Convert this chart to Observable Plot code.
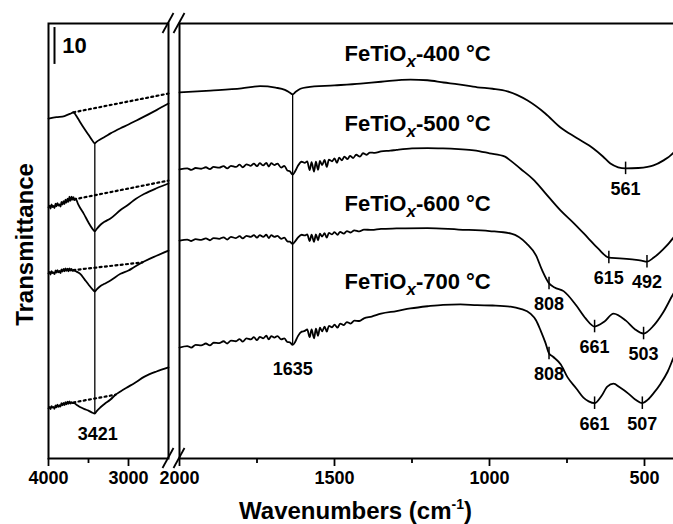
<!DOCTYPE html>
<html><head><meta charset="utf-8">
<script src="https://cdn.jsdelivr.net/npm/d3@7"></script>
<script src="https://cdn.jsdelivr.net/npm/@observablehq/plot@0.6"></script>
<style>
body{margin:0;background:#fff}
#chart{position:relative;width:673px;height:524px;overflow:hidden;background:#fff}
#chart svg{position:absolute;left:0;top:0}
</style></head><body><div id="chart"></div>
<script>
// ---- data: [wavenumber (cm-1), transmittance (offset, a.u.)] ----
const temps = ["400", "500", "600", "700"];

const s400L = [[4000,92.2],[3900,92.6],[3800,92.9],[3720,93.6],[3690,93.9],[3660,93.2],[3620,91.8],[3562,89.8],[3500,87.8],[3450,86.2],[3421,85.5],[3400,85.9],[3350,86.6],[3300,87.2],[3225,88.2],[3100,89.6],[3000,90.6],[2900,91.7],[2800,92.8],[2650,94.5],[2500,96.3]];
const s500L = [[4000,68.1],[3985,68.6],[3975,67.8],[3962,68.9],[3950,68.2],[3938,68.5],[3925,67.9],[3912,69.1],[3900,68.4],[3888,69.3],[3875,68.6],[3862,68.9],[3850,68.3],[3838,69.6],[3825,68.9],[3812,69.8],[3800,69.0],[3788,70.2],[3775,69.4],[3762,70.5],[3750,69.6],[3738,71.0],[3725,69.9],[3712,71.0],[3700,70.2],[3688,70.9],[3675,70.1],[3662,70.5],[3630,69.0],[3600,67.8],[3562,66.5],[3500,64.0],[3450,62.3],[3421,61.6],[3400,62.2],[3350,63.4],[3300,64.2],[3225,65.1],[3100,67.4],[3000,68.9],[2937,70.0],[2800,71.8],[2650,73.3],[2500,74.6]];
const s600L = [[4000,50.2],[3985,50.6],[3975,49.9],[3962,50.8],[3950,50.3],[3938,50.5],[3925,50.0],[3912,51.0],[3900,50.4],[3888,51.1],[3875,50.5],[3862,50.9],[3850,50.3],[3838,51.3],[3825,50.7],[3812,51.4],[3800,50.8],[3788,51.6],[3775,50.9],[3762,51.5],[3750,50.8],[3738,51.6],[3725,51.0],[3712,51.4],[3700,50.9],[3680,51.0],[3650,50.7],[3600,50.0],[3550,48.6],[3500,47.2],[3450,45.9],[3421,45.3],[3400,45.8],[3350,46.8],[3300,47.4],[3225,48.3],[3100,50.1],[3000,51.0],[2937,51.8],[2800,53.5],[2650,55.0],[2500,56.4]];
const s700L = [[4000,13.6],[3985,14.0],[3975,13.4],[3962,14.2],[3950,13.8],[3938,14.0],[3925,13.5],[3912,14.4],[3900,13.9],[3888,14.6],[3875,14.0],[3862,14.5],[3850,14.1],[3838,15.0],[3825,14.4],[3812,15.1],[3800,14.5],[3788,15.3],[3775,14.7],[3762,15.4],[3750,14.8],[3738,15.5],[3725,14.9],[3712,15.3],[3700,15.0],[3680,15.0],[3650,14.6],[3600,13.9],[3550,13.4],[3500,13.0],[3450,12.4],[3421,12.2],[3400,12.8],[3350,13.9],[3300,14.8],[3225,16.0],[3162,17.3],[3100,18.2],[3000,19.5],[2937,20.3],[2800,22.2],[2650,23.6],[2500,24.7]];

// dotted baselines under the O-H band
const b400 = [[3690,93.9],[2500,99.0]];
const b500 = [[3680,70.3],[2500,75.4]];
const b600 = [[3690,51.1],[2825,53.2]];
const b700 = [[3690,15.2],[3162,17.3]];

const s400R = [[2000,99.3],[1900,99.8],[1800,100.4],[1740,101.0],[1690,100.6],[1660,100.0],[1645,99.3],[1635,98.8],[1625,99.5],[1610,100.3],[1590,100.7],[1500,101.2],[1416,101.7],[1350,102.2],[1255,102.8],[1200,102.6],[1148,102.0],[1100,101.5],[1039,100.7],[990,100.3],[942,99.6],[877,97.1],[820,93.6],[771,89.8],[720,87.0],[665,84.1],[635,82.0],[610,80.0],[585,79.0],[561,78.7],[520,78.8],[490,79.1],[471,79.5],[440,80.8],[406,83.0],[400,83.6]];
const s500R = [[2000,78.4],[1975,78.7],[1962,78.3],[1948,78.8],[1930,78.6],[1915,79.0],[1902,78.5],[1890,79.1],[1872,78.9],[1858,79.3],[1846,78.7],[1834,79.4],[1818,79.1],[1806,79.7],[1796,79.0],[1784,79.8],[1770,79.4],[1760,80.0],[1750,79.3],[1741,80.1],[1730,79.5],[1720,80.2],[1712,79.2],[1704,80.1],[1694,79.6],[1684,80.0],[1672,78.9],[1662,79.4],[1652,78.1],[1644,77.9],[1635,77.0],[1627,77.9],[1618,79.4],[1606,80.5],[1596,80.2],[1588,80.6],[1580,78.2],[1574,80.4],[1566,77.8],[1560,80.5],[1553,78.3],[1547,80.7],[1540,79.6],[1532,81.0],[1525,79.1],[1518,81.1],[1508,80.6],[1500,81.4],[1492,80.2],[1485,81.6],[1476,80.9],[1468,81.9],[1458,81.2],[1450,82.1],[1440,81.5],[1430,82.4],[1418,81.9],[1408,82.8],[1396,82.4],[1386,83.0],[1370,82.9],[1350,83.3],[1320,83.5],[1300,83.7],[1250,84.1],[1200,84.2],[1150,84.1],[1100,83.9],[1050,83.6],[1000,82.8],[950,81.9],[932,80.8],[900,78.6],[855,75.4],[820,72.0],[771,67.3],[730,64.0],[684,60.0],[650,57.0],[615,54.5],[580,54.3],[540,54.0],[510,53.7],[492,53.4],[470,54.5],[440,56.7],[406,60.0],[400,60.7]];
const s600R = [[2000,59.1],[1975,59.4],[1962,59.0],[1948,59.5],[1930,59.3],[1915,59.7],[1902,59.2],[1890,59.8],[1872,59.6],[1858,60.0],[1846,59.4],[1834,60.1],[1818,59.8],[1806,60.3],[1796,59.7],[1784,60.4],[1770,60.1],[1760,60.6],[1750,59.9],[1741,60.6],[1730,60.1],[1720,60.7],[1712,59.8],[1704,60.6],[1694,60.1],[1684,60.4],[1672,59.6],[1662,59.9],[1652,58.9],[1644,58.8],[1635,58.2],[1627,58.9],[1618,59.9],[1606,60.7],[1596,60.5],[1588,60.8],[1580,59.0],[1574,60.7],[1566,58.8],[1560,60.8],[1553,59.2],[1547,61.0],[1540,60.2],[1532,61.1],[1525,59.9],[1518,61.2],[1508,60.8],[1500,61.4],[1490,60.7],[1482,61.5],[1470,61.0],[1460,61.7],[1448,61.3],[1436,61.9],[1420,61.6],[1405,62.1],[1380,62.0],[1350,62.3],[1300,62.4],[1200,62.5],[1100,62.1],[1000,61.7],[930,61.0],[880,58.3],[850,55.1],[830,51.0],[808,47.5],[790,46.4],[761,45.4],[720,41.5],[690,38.0],[661,35.8],[630,37.1],[600,39.3],[560,37.4],[530,35.0],[503,33.9],[470,36.1],[440,39.6],[406,44.8],[400,45.6]];
const s700R = [[2000,30.1],[1975,30.5],[1962,30.1],[1948,30.8],[1930,30.7],[1915,31.2],[1902,30.7],[1890,31.4],[1872,31.3],[1858,31.8],[1846,31.2],[1834,32.0],[1818,31.8],[1806,32.4],[1796,31.7],[1784,32.6],[1770,32.3],[1760,32.9],[1750,32.1],[1741,33.0],[1730,32.6],[1720,33.3],[1712,32.3],[1704,33.2],[1694,32.8],[1684,33.2],[1672,32.3],[1662,32.6],[1652,31.6],[1644,31.5],[1635,30.8],[1627,31.6],[1618,33.2],[1606,34.4],[1596,34.6],[1588,35.0],[1580,32.9],[1574,35.0],[1566,32.6],[1560,35.2],[1553,33.3],[1547,35.5],[1540,34.5],[1532,35.8],[1525,34.4],[1518,36.0],[1508,35.6],[1500,36.3],[1490,35.5],[1482,36.6],[1470,36.2],[1460,37.0],[1448,36.6],[1436,37.4],[1420,37.3],[1405,38.0],[1380,38.5],[1350,39.3],[1300,40.0],[1255,40.7],[1200,41.3],[1150,41.7],[1094,41.8],[1040,41.6],[990,41.5],[932,41.2],[900,40.6],[868,39.3],[850,37.5],[835,34.7],[820,31.5],[808,28.5],[795,27.6],[770,25.5],[748,22.0],[720,19.0],[697,16.5],[680,15.5],[661,15.0],[640,16.8],[620,19.5],[600,20.3],[580,19.3],[552,17.6],[530,16.0],[507,15.0],[490,15.9],[470,17.8],[448,20.3],[425,23.6],[406,27.4],[400,28.5]];

// labelled peaks [wavenumber, transmittance at peak]
const p400 = [[561,78.7]];
const p500 = [[615,54.5],[492,53.4]];
const p600 = [[808,47.5],[661,35.8],[503,33.9]];
const p700 = [[808,28.5],[661,15.0],[507,15.0]];

// bands marked across all spectra
const bandLeft = [3421];
const bandRight = [1635];

// sample labels
const labelWn = [1232, 1232, 1232, 1232];
const labelT = [109.7, 90.7, 69.0, 47.9];

// scale bar
const scaleBarLabel = "10";
const scaleBarTop = 116.9;
const scaleBarValue = 10;

// axis ticks
const leftTicks = [4000, 3000];
const leftMinor = [3500];
const rightTicks = [2000, 1500, 1000, 500];
const rightMinor = [1750, 1250, 750];
const leftDomain = [4000, 2500];
const rightDomain = [2000, 400];
const yDomain = [0, 118];

// ---- build tables ----
const rows = (arrs) => arrs.flatMap((pts, i) => pts.map(([wn, t]) => ({wn, t, id: temps[i]})));
const leftS = [s400L, s500L, s600L, s700L];
const rightS = [s400R, s500R, s600R, s700R];
const leftRows = rows(leftS);
const rightRows = rows(rightS);
const baseRows = rows([b400, b500, b600, b700]);
const peakRows = rows([p400, p500, p600, p700]);
const valAt = (pts, wn) => pts.find(p => p[0] === wn)[1];
const bandRows = (bands, spectra) => bands.map(wn => ({wn, top: valAt(spectra[0], wn), bottom: valAt(spectra[spectra.length - 1], wn)}));
const bandL = bandRows(bandLeft, leftS);
const bandR = bandRows(bandRight, rightS);
const labelRows = temps.map((tp, i) => ({wn: labelWn[i], t: labelT[i], text: `FeTiOx-${tp} \u00b0C`}));

const FONT = "'Liberation Sans', Arial, Helvetica, sans-serif";
const B = "bold";
const common = {
  height: 524, marginTop: 23, marginBottom: 66,
  y: {domain: yDomain, axis: null},
  style: {fontFamily: FONT, fontWeight: "bold", fontSize: "18px", color: "black", background: "transparent", maxWidth: "none", overflow: "visible"}
};

function breakMarks(wn) {
  return (index, scales, values, dims) => {
    const g = d3.create("svg:g").attr("stroke", "black").attr("stroke-width", 1.8);
    const cx = scales.x(wn);
    for (const cy of [dims.marginTop, dims.height - dims.marginBottom]) {
      g.append("line").attr("x1", cx - 5.5).attr("y1", cy + 10).attr("x2", cx + 5.5).attr("y2", cy - 10);
    }
    return g.node();
  };
}

const lineOpts = {x: "wn", y: "t", z: "id", curve: "monotone-x", stroke: "black", strokeWidth: 1.8};

const left = Plot.plot({
  ...common, width: 673, marginLeft: 48, marginRight: 505,
  x: {domain: leftDomain, label: null},
  marks: [
    Plot.frame({strokeWidth: 2}),
    Plot.axisX({ticks: leftTicks, tickSize: 8, tickPadding: 5, tickFormat: d => String(d), fontSize: 18, fontWeight: B, strokeWidth: 1.8, label: null}),
    Plot.axisX({ticks: leftMinor, tickSize: 5, tickFormat: () => "", strokeWidth: 1.8, label: null}),
    Plot.line(baseRows, {x: "wn", y: "t", z: "id", stroke: "black", strokeDasharray: "2,3.3", strokeWidth: 2.2}),
    Plot.ruleX(bandL, {x: "wn", y1: "bottom", y2: "top", strokeWidth: 1.3}),
    Plot.line(leftRows, lineOpts),
    Plot.text(bandL, {x: "wn", y: "bottom", text: d => String(d.wn), dy: 21, dx: 3, fontSize: 18, fontWeight: B}),
    Plot.ruleX([{wn: leftDomain[0]}], {x: "wn", y1: scaleBarTop - scaleBarValue, y2: scaleBarTop, dx: 6, strokeWidth: 2}),
    Plot.text([{wn: leftDomain[0], t: scaleBarTop - scaleBarValue / 2, s: scaleBarLabel}], {x: "wn", y: "t", text: "s", dx: 26, fontSize: 22, fontWeight: B}),
    Plot.text(["Transmittance"], {text: d => d, frameAnchor: "left", textAnchor: "middle", lineAnchor: "middle", rotate: -90, dx: -23, dy: 3.5, fontSize: 24, fontWeight: B}),
    breakMarks(leftDomain[1])
  ]
});

const right = Plot.plot({
  ...common, width: 677, marginLeft: 179, marginRight: 2,
  x: {domain: rightDomain, label: null},
  marks: [
    Plot.frame({strokeWidth: 2}),
    Plot.axisX({ticks: rightTicks, tickSize: 8, tickPadding: 5, tickFormat: d => String(d), fontSize: 18, fontWeight: B, strokeWidth: 1.8, label: null}),
    Plot.axisX({ticks: rightMinor, tickSize: 5, tickFormat: () => "", strokeWidth: 1.8, label: null}),
    Plot.ruleX(bandR, {x: "wn", y1: "bottom", y2: "top", strokeWidth: 1.3}),
    Plot.line(rightRows, lineOpts),
    Plot.ruleX(peakRows, {x: "wn", y1: d => d.t - 1.7, y2: d => d.t + 1.7, strokeWidth: 1.5}),
    Plot.text(peakRows, {x: "wn", y: "t", text: d => String(d.wn), dy: 21, fontSize: 18, fontWeight: B}),
    Plot.text(bandR, {x: "wn", y: "bottom", text: d => String(d.wn), dy: 24, fontSize: 18, fontWeight: B}),
    Plot.text(labelRows, {x: "wn", y: "t", text: "text", fontSize: 22, fontWeight: B}),
    Plot.text(["Wavenumbers (cm-1)"], {text: d => d, frameAnchor: "bottom", textAnchor: "middle", lineAnchor: "middle", dx: -72, dy: 53, fontSize: 24, fontWeight: B}),
    breakMarks(rightDomain[0])
  ]
});

function span(parent, str, attrs = {}) {
  const s = document.createElementNS("http://www.w3.org/2000/svg", "tspan");
  for (const k in attrs) s.setAttribute(k, attrs[k]);
  s.textContent = str;
  parent.appendChild(s);
}
function richText(svg) {
  svg.querySelectorAll("text").forEach(t => {
    const s = t.textContent;
    const m = s.match(/^FeTiOx(-.*)$/);
    if (m) {
      t.textContent = "";
      span(t, "FeTiO");
      span(t, "x", {dy: 6, "font-style": "italic", "font-size": 17});
      span(t, m[1], {dy: -6});
    } else if (s === "Wavenumbers (cm-1)") {
      t.textContent = "";
      span(t, "Wavenumbers (cm");
      span(t, "-1", {dy: -10, "font-size": 14});
      span(t, ")", {dy: 10});
    }
  });
}
richText(left); richText(right);
const chart = document.getElementById("chart");
chart.appendChild(left);
chart.appendChild(right);
</script></body></html>
